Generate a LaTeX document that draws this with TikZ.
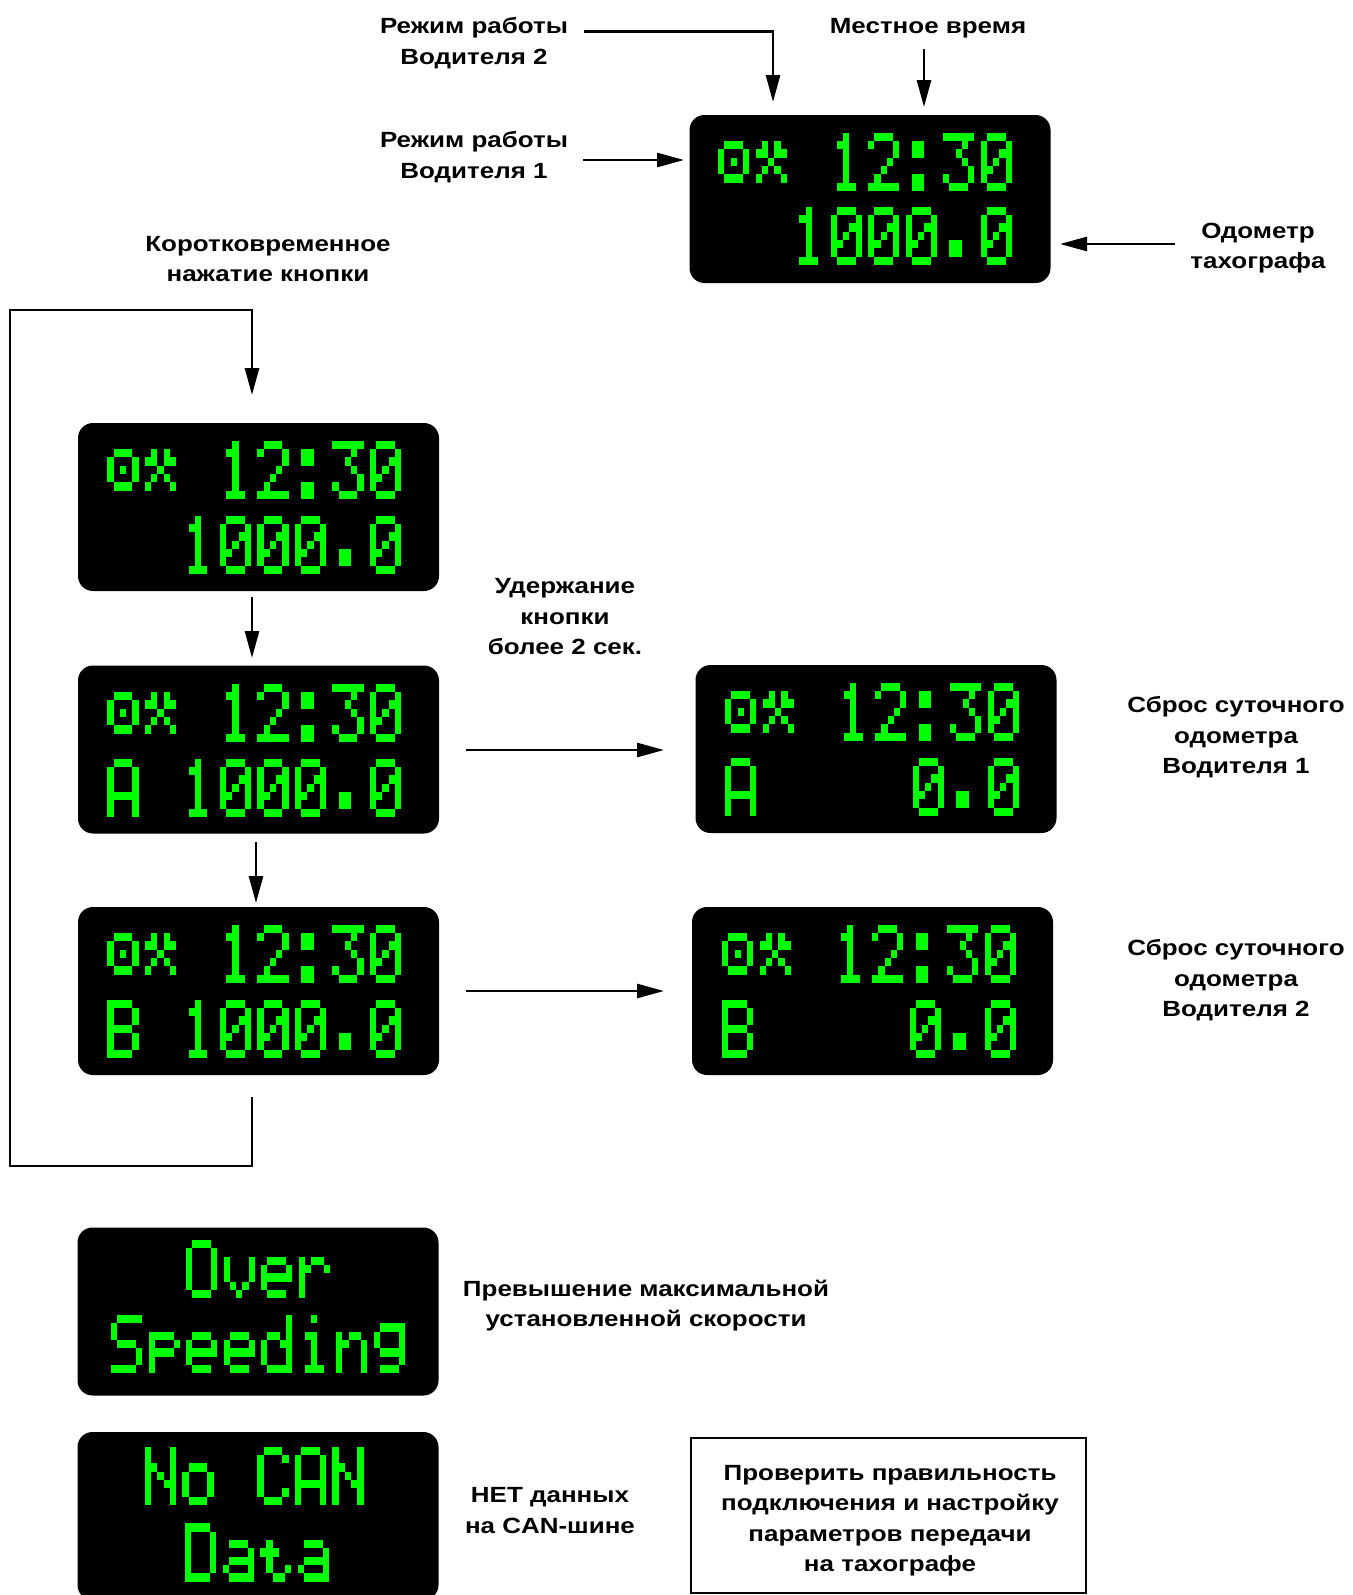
\documentclass[tikz,border=0pt]{standalone}
\usepackage{fontspec}
\setmainfont{Liberation Sans}
\newfontfamily\lblfont{Liberation Sans}[FakeStretch=1.18]
\usetikzlibrary{arrows.meta}
\definecolor{lcdgreen}{RGB}{0,255,0}

\newcount\lcdc \newcount\lcdr \newcount\lcdk
\def\pxw{6.25}\def\pxh{8.33}\def\cellw{37.5}
\def\lcdgobble#1{}
\def\lcdfillpix{\fill[lcdgreen] ({\lcdox+\the\lcdc*\pxw},{\lcdoy+\the\lcdr*\pxh}) rectangle ++(\pxw,\pxh);}
\def\lcdpix#1{\ifx\relax#1\expandafter\lcdgobble\else\expandafter\lcdpixdo\fi#1}
\def\lcdpixdo#1{\if X#1\expandafter\lcdfillpix\fi\advance\lcdc by 1 \lcdpix}
\def\lcdrows#1{\ifx\relax#1\expandafter\lcdgobble\else\expandafter\lcddorow\fi{#1}}
\def\lcddorow#1{\lcdc=0 \lcdpix#1\relax\advance\lcdr by 1 \lcdrows}
\def\lcdglyph#1#2#3{\edef\lcdox{#1}\edef\lcdoy{#2}\lcdr=0 \expandafter\lcdrows#3\relax}
\def\lcdline#1#2#3{\edef\lcdlox{#1}\edef\lcdloy{#2}\lcdk=0 \lcdlineaux#3\relax}
\def\lcdlineaux#1{\ifx\relax#1\expandafter\lcdgobble\else\expandafter\lcdlinedo\fi#1}
\def\lcdlinedo#1{\pgfmathsetmacro\lcdgx{\lcdlox+\the\lcdk*\cellw}\lcdglyph{\lcdgx}{\lcdloy}{#1}\advance\lcdk by 1 \lcdlineaux}

% glyphs 5x7
\def\gSp{}
\def\gZero{{.XXX.}{X...X}{X..XX}{X.X.X}{XX..X}{X...X}{.XXX.}}
\def\gOne{{..X..}{.XX..}{..X..}{..X..}{..X..}{..X..}{.XXX.}}
\def\gTwo{{.XXX.}{X...X}{....X}{...X.}{..X..}{.X...}{XXXXX}}
\def\gThree{{XXXXX}{...X.}{..X..}{...X.}{....X}{X...X}{.XXX.}}
\def\gColon{{.....}{.XX..}{.XX..}{.....}{.....}{.XX..}{.XX..}}
\def\gDot{{.....}{.....}{.....}{.....}{.XX..}{.XX..}{.....}}
\def\gIcA{{.....}{.XXX.}{X...X}{X.X.X}{X...X}{.XXX.}{.....}}
\def\gIcB{{.....}{.X.X.}{XX.XX}{..X..}{.X.X.}{X...X}{.....}}
\def\gA{{.XXX.}{X...X}{X...X}{X...X}{XXXXX}{X...X}{X...X}}
\def\gB{{XXXX.}{X...X}{X...X}{XXXX.}{X...X}{X...X}{XXXX.}}
\def\gO{{.XXX.}{X...X}{X...X}{X...X}{X...X}{X...X}{.XXX.}}
\def\gv{{.....}{.....}{X...X}{X...X}{X...X}{.X.X.}{..X..}}
\def\ge{{.....}{.....}{.XXX.}{X...X}{XXXXX}{X....}{.XXX.}}
\def\gr{{.....}{.....}{X.XX.}{XX..X}{X....}{X....}{X....}}
\def\gS{{.XXXX}{X....}{X....}{.XXX.}{....X}{....X}{XXXX.}}
\def\gp{{.....}{.....}{XXXX.}{X...X}{XXXX.}{X....}{X....}}
\def\gd{{....X}{....X}{.XX.X}{X..XX}{X...X}{X...X}{.XXXX}}
\def\gi{{..X..}{.....}{.XX..}{..X..}{..X..}{..X..}{.XXX.}}
\def\gn{{.....}{.....}{X.XX.}{XX..X}{X...X}{X...X}{X...X}}
\def\gg{{.....}{.XXXX}{X...X}{X...X}{.XXXX}{....X}{.XXX.}}
\def\gN{{X...X}{X...X}{XX..X}{X.X.X}{X..XX}{X...X}{X...X}}
\def\go{{.....}{.....}{.XXX.}{X...X}{X...X}{X...X}{.XXX.}}
\def\gC{{.XXX.}{X...X}{X....}{X....}{X....}{X...X}{.XXX.}}
\def\gD{{XXXX.}{X...X}{X...X}{X...X}{X...X}{X...X}{XXXX.}}
\def\ga{{.....}{.....}{.XXX.}{....X}{.XXXX}{X...X}{.XXXX}}
\def\gt{{.....}{.....}{.X...}{XXX..}{.X...}{.X..X}{..XX.}}

\def\lcdtime#1#2{\lcdline{#1}{#2}{\gIcA\gIcB\gSp\gOne\gTwo\gColon\gThree\gZero}}

\tikzset{
  lcdbox/.style={fill=black, draw=none, rounded corners=15pt, inner sep=0pt,
    minimum width=361pt, minimum height=168pt},
  lbl/.style={font={\lblfont\fontsize{22}{30.5}\selectfont\bfseries}, align=center, inner sep=0pt},
  conn/.style={line width=2.7pt, -{Triangle[length=27pt,width=14pt]}},
  notebox/.style={draw, line width=2.7pt, minimum width=395pt, minimum height=155pt, inner sep=0pt}
}

\begin{document}
\begin{tikzpicture}[x=1pt,y=-1pt]
\useasboundingbox (0,0) rectangle (1352,1595);
\clip (0,0) rectangle (1352,1595);

% display boxes
\node[lcdbox] (dtop) at (870,199) {};
\node[lcdbox] (d1) at (258.5,507) {};
\node[lcdbox] (dA) at (258.5,749.5) {};
\node[lcdbox] (dB) at (258.5,991) {};
\node[lcdbox] (dAr) at (876,749) {};
\node[lcdbox] (dBr) at (872.5,991) {};
\node[lcdbox] (dOS) at (258,1311.5) {};
\node[lcdbox] (dNC) at (258,1516) {};

% display contents
\lcdtime{718}{132.7}
\lcdline{718}{206.7}{\gSp\gSp\gOne\gZero\gZero\gZero\gDot\gZero}
\lcdtime{107.3}{440.7}
\lcdline{107.3}{515.7}{\gSp\gSp\gOne\gZero\gZero\gZero\gDot\gZero}
\lcdtime{107.3}{683.7}
\lcdline{107.3}{758.7}{\gA\gSp\gOne\gZero\gZero\gZero\gDot\gZero}
\lcdtime{107.3}{924.7}
\lcdline{107.3}{999.7}{\gB\gSp\gOne\gZero\gZero\gZero\gDot\gZero}
\lcdtime{725}{682.7}
\lcdline{725}{757.7}{\gA\gSp\gSp\gSp\gSp\gZero\gDot\gZero}
\lcdtime{722}{924.7}
\lcdline{722}{999.7}{\gB\gSp\gSp\gSp\gSp\gZero\gDot\gZero}
\lcdline{111}{1240}{\gSp\gSp\gO\gv\ge\gr}
\lcdline{111}{1315}{\gS\gp\ge\ge\gd\gi\gn\gg}
\lcdline{107.3}{1446.7}{\gSp\gN\go\gSp\gC\gA\gN}
\lcdline{110}{1523.3}{\gSp\gSp\gD\ga\gt\ga}

% labels
\node[lbl] (lD2) at (474,43) {Режим работы\\Водителя 2};
\node[lbl] (lTime) at (928,28) {Местное время};
\node[lbl] (lD1) at (474,157) {Режим работы\\Водителя 1};
\node[lbl] (lOdo) at (1258,248) {Одометр\\тахографа};
\node[lbl] (lShort) at (268,259) {Коротковременное\\нажатие кнопки};
\node[lbl] (lHold) at (565,617) {Удержание\\кнопки\\более 2 сек.};
\node[lbl] (lR1) at (1236,737.5) {Сброс суточного\\одометра\\Водителя 1};
\node[lbl] (lR2) at (1236,980.5) {Сброс суточного\\одометра\\Водителя 2};
\node[lbl] (lOver) at (646,1305.5) {Превышение максимальной\\установленной скорости};
\node[lbl] (lNoCan) at (550,1510.5) {НЕТ данных\\на CAN-шине};
\node[notebox] (check) at (888.5,1515.5) {};
\node[lbl] (checkText) at (890,1520.5) {Проверить правильность\\подключения и настройку\\параметров передачи\\на тахографе};

% connector points
\coordinate (p2a) at (584,31.5);
\coordinate (p2b) at (773,31.5);
\coordinate (p2c) at (773,102);
\coordinate (pTa) at (924,49);
\coordinate (pTb) at (924,107);
\coordinate (p1a) at (583,160);
\coordinate (p1b) at (684,160);
\coordinate (pOa) at (1175,244);
\coordinate (pOb) at (1060,244);
\coordinate (L1) at (252,1097);
\coordinate (L2) at (252,1166);
\coordinate (L3) at (10,1166);
\coordinate (L4) at (10,310);
\coordinate (L5) at (252,310);
\coordinate (L6) at (252,395);
\coordinate (s1a) at (252,597);
\coordinate (s1b) at (252,658);
\coordinate (s2a) at (256,842);
\coordinate (s2b) at (256,903);
\coordinate (hAa) at (466,750);
\coordinate (hAb) at (664,750);
\coordinate (hBa) at (466,991);
\coordinate (hBb) at (664,991);

\draw[conn] (p2a) -- (p2b) -- (p2c);
\draw[conn] (pTa) -- (pTb);
\draw[conn] (p1a) -- (p1b);
\draw[conn] (pOa) -- (pOb);
\draw[conn] (L1) -- (L2) -- (L3) -- (L4) -- (L5) -- (L6);
\draw[conn] (s1a) -- (s1b);
\draw[conn] (s2a) -- (s2b);
\draw[conn] (hAa) -- (hAb);
\draw[conn] (hBa) -- (hBb);
\end{tikzpicture}
\end{document}
